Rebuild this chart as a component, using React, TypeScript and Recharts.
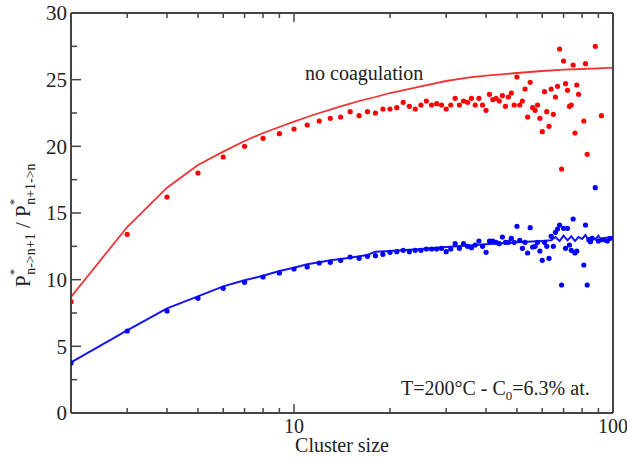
import React from "react";
import {
    ComposedChart,
    Line,
    Scatter,
    XAxis,
    YAxis,
    Customized,
} from "recharts";

// fitted curves
const redFitN = [2, 3, 4, 5, 6, 7, 8, 9, 10, 11, 12, 13, 14, 15, 16, 18, 20, 25, 30, 35, 40, 50, 60, 70, 80, 90, 100];
const redFitV = [8.7, 13.95, 16.9, 18.6, 19.6, 20.4, 21.0, 21.45, 21.85, 22.2, 22.5, 22.75, 23.0, 23.2, 23.4, 23.7, 24.0, 24.5, 24.9, 25.15, 25.3, 25.5, 25.65, 25.75, 25.8, 25.85, 25.9];

const blueFitN = [2, 3, 4, 5, 6, 7, 8, 9, 10, 11, 12, 13, 14, 15, 16, 17, 18, 20, 25, 30, 40, 50, 60, 64, 66, 68, 70, 72, 74, 76, 78, 80, 82, 84, 86, 88, 90, 92, 95, 100];
const blueFitV = [3.8, 6.2, 7.85, 8.75, 9.5, 9.95, 10.3, 10.65, 10.9, 11.15, 11.3, 11.45, 11.55, 11.65, 11.75, 11.85, 12.1, 12.15, 12.3, 12.45, 12.65, 12.8, 12.9, 12.95, 13.2, 12.9, 13.3, 12.95, 13.25, 12.9, 13.2, 13.05, 13.35, 12.9, 13.2, 13.0, 13.3, 12.95, 13.15, 13.2];

// simulation points
const redDotN = [2, 3, 4, 5, 6, 7, 8, 9, 10, 11, 12, 13, 14, 15, 16, 17, 18, 19, 20, 21, 22, 23, 24, 25, 26, 27, 28, 29, 30, 31, 32, 33, 34, 35, 36, 37, 38, 39, 40, 41, 42, 43, 44, 45, 46, 47, 48, 49, 50, 51, 52, 53, 54, 55, 56, 57, 58, 59, 60, 61, 62, 63, 64, 65, 66, 67, 68, 69, 70, 71, 72, 73, 74, 75, 76, 77, 78, 81, 82, 83, 88, 92];
const redDotV = [8.35, 13.4, 16.2, 18.0, 19.2, 20.0, 20.6, 20.95, 21.3, 21.6, 21.9, 22.1, 22.2, 22.6, 22.3, 22.6, 22.5, 22.8, 22.8, 22.9, 23.3, 23.0, 22.8, 23.1, 23.4, 23.1, 23.2, 23.1, 22.8, 23.1, 23.6, 23.1, 23.4, 23.3, 23.6, 23.1, 23.6, 23.1, 22.7, 23.9, 23.5, 23.6, 23.4, 23.8, 23.0, 23.7, 24.0, 23.1, 25.2, 23.1, 23.4, 24.3, 22.2, 24.8, 22.9, 22.7, 23.1, 22.1, 21.1, 24.1, 22.6, 21.5, 24.3, 22.4, 23.7, 24.5, 27.3, 18.3, 26.4, 24.7, 24.2, 23.0, 23.1, 26.1, 21.0, 24.6, 23.9, 21.9, 26.2, 19.4, 27.5, 22.3];

const blueDotN = [2, 3, 4, 5, 6, 7, 8, 9, 10, 11, 12, 13, 14, 15, 16, 17, 18, 19, 20, 21, 22, 23, 24, 25, 26, 27, 28, 29, 30, 31, 32, 33, 34, 35, 36, 37, 38, 39, 40, 41, 42, 43, 44, 45, 46, 47, 48, 49, 50, 51, 52, 53, 54, 55, 56, 57, 58, 59, 60, 61, 62, 63, 64, 65, 66, 67, 68, 69, 70, 71, 72, 73, 74, 75, 76, 77, 81, 82, 83, 84, 85, 86, 88, 90, 93, 96, 98];
const blueDotV = [3.75, 6.15, 7.65, 8.6, 9.35, 9.8, 10.2, 10.5, 10.8, 10.95, 11.25, 11.3, 11.45, 11.7, 11.6, 11.75, 11.8, 11.9, 12.05, 12.1, 12.2, 12.1, 12.2, 12.2, 12.3, 12.3, 12.3, 12.35, 12.1, 12.3, 12.7, 12.35, 12.7, 12.5, 12.4, 12.6, 12.9, 12.5, 12.05, 12.9, 12.9, 12.8, 12.7, 13.2, 12.8, 12.8, 13.1, 12.8, 14.0, 12.95, 12.35, 12.8, 12.0, 13.9, 12.45, 12.5, 12.8, 12.15, 11.45, 12.8, 12.5, 11.6, 13.25, 12.5, 13.55, 13.8, 14.1, 9.6, 13.85, 12.35, 13.85, 12.6, 12.2, 14.55, 12.0, 12.15, 11.1, 14.1, 9.6, 13.0, 12.85, 13.1, 16.9, 12.9, 13.0, 12.9, 13.1];

const xTicks = [3, 4, 5, 6, 7, 8, 9, 10, 20, 30, 40, 50, 60, 70, 80, 90, 100];
const xLabelTicks = [10, 100];
const yTicks = [0, 2.5, 5, 7.5, 10, 12.5, 15, 17.5, 20, 22.5, 25, 27.5, 30];

const pairs = (ns: number[], vs: number[]) => ns.map((n, i) => ({ n, v: vs[i] }));
const redFit = pairs(redFitN, redFitV);
const blueFit = pairs(blueFitN, blueFitV);
const redDots = pairs(redDotN, redDotV);
const blueDots = pairs(blueDotN, blueDotV);

const AXIS = "#454545";
const TXT = "#222";
const serif = { fontFamily: "Liberation Serif" };

const BottomTick = (props: any) => {
    const { x, y, payload } = props;
    const major = xLabelTicks.includes(payload.value);
    return (
        <g>
            <line x1={x} x2={x} y1={y} y2={y - (major ? 9 : 5)} stroke={AXIS} strokeWidth={1.5} />
            {major && (
                <text x={x} y={y + 20} textAnchor="middle" fontSize={20} style={serif} fill={TXT}>
                    {payload.value}
                </text>
            )}
        </g>
    );
};

const TopTick = (props: any) => {
    const { x, y, payload } = props;
    const major = xLabelTicks.includes(payload.value);
    return <line x1={x} x2={x} y1={y} y2={y + (major ? 9 : 5)} stroke={AXIS} strokeWidth={1.5} />;
};

const LeftTick = (props: any) => {
    const { x, y, payload } = props;
    const major = payload.value % 5 === 0;
    return (
        <g>
            <line x1={x} x2={x + (major ? 10 : 6)} y1={y} y2={y} stroke={AXIS} strokeWidth={1.5} />
            {major && (
                <text x={x - 4} y={y} dy="0.35em" textAnchor="end" fontSize={21} style={serif} fill={TXT}>
                    {payload.value}
                </text>
            )}
        </g>
    );
};

const RightTick = (props: any) => {
    const { x, y, payload } = props;
    const major = payload.value % 5 === 0;
    return <line x1={x} x2={x - (major ? 10 : 6)} y1={y} y2={y} stroke={AXIS} strokeWidth={1.5} />;
};

const Annotations = () => (
    <g style={serif} fill={TXT}>
        <text x={305} y={80} fontSize={20} style={serif}>no coagulation</text>
        <text x={401} y={395} fontSize={20} style={serif}>
            T=200°C - C<tspan fontSize={13} dy={5}>0</tspan>
            <tspan dy={-5}>=6.3% at.</tspan>
        </text>
        <text x={342} y={452} fontSize={20} style={serif} textAnchor="middle">Cluster size</text>
        <text x={30} y={287} transform="rotate(-90 30 287)" style={serif}>
            <tspan fontSize={21}>P</tspan>
            <tspan fontSize={13} dy={-12}>*</tspan>
            <tspan fontSize={14} dx={-6} dy={17}>n-&gt;n+1</tspan>
            <tspan fontSize={21} dy={-5}> / P</tspan>
            <tspan fontSize={13} dy={-12}>*</tspan>
            <tspan fontSize={14} dx={-6} dy={17}>n+1-&gt;n</tspan>
        </text>
    </g>
);

const dot = (color: string) => (props: any) =>
    <circle cx={props.cx} cy={props.cy} r={2.6} fill={color} />;

export default function App() {
    return (
        <div style={{ position: "absolute", left: 0, top: 0, width: 627, height: 461, background: "#fff", fontFamily: "Liberation Serif" }}>
            <ComposedChart width={627} height={461} margin={{ top: 12, right: 13, bottom: 8, left: 11 }}>
                <XAxis
                    dataKey="n"
                    type="number"
                    scale="log"
                    domain={[2, 100]}
                    allowDataOverflow
                    ticks={xTicks}
                    interval={0}
                    tickSize={0}
                    tickMargin={0}
                    tickLine={false}
                    tick={<BottomTick />}
                    height={40}
                    stroke={AXIS}
                    strokeWidth={2}
                />
                <XAxis
                    xAxisId="top"
                    orientation="top"
                    dataKey="n"
                    type="number"
                    scale="log"
                    domain={[2, 100]}
                    allowDataOverflow
                    ticks={xTicks}
                    interval={0}
                    tickSize={0}
                    tickMargin={0}
                    tickLine={false}
                    tick={<TopTick />}
                    height={1}
                    stroke={AXIS}
                    strokeWidth={2}
                />
                <YAxis
                    type="number"
                    domain={[0, 30]}
                    ticks={yTicks}
                    interval={0}
                    tickSize={0}
                    tickMargin={0}
                    tickLine={false}
                    tick={<LeftTick />}
                    width={60}
                    stroke={AXIS}
                    strokeWidth={2}
                />
                <YAxis
                    yAxisId="right"
                    orientation="right"
                    type="number"
                    domain={[0, 30]}
                    ticks={yTicks}
                    interval={0}
                    tickSize={0}
                    tickMargin={0}
                    tickLine={false}
                    tick={<RightTick />}
                    width={1}
                    stroke={AXIS}
                    strokeWidth={2}
                />
                <Line data={redFit} dataKey="v" type="linear" stroke="#ee3434" strokeWidth={1.8} dot={false} isAnimationActive={false} />
                <Line data={blueFit} dataKey="v" type="linear" stroke="#1414f0" strokeWidth={2} dot={false} isAnimationActive={false} />
                <Scatter data={redDots} dataKey="v" shape={dot("#ff0000")} isAnimationActive={false} />
                <Scatter data={blueDots} dataKey="v" shape={dot("#0000ff")} isAnimationActive={false} />
                <Customized component={<Annotations />} />
            </ComposedChart>
        </div>
    );
}
